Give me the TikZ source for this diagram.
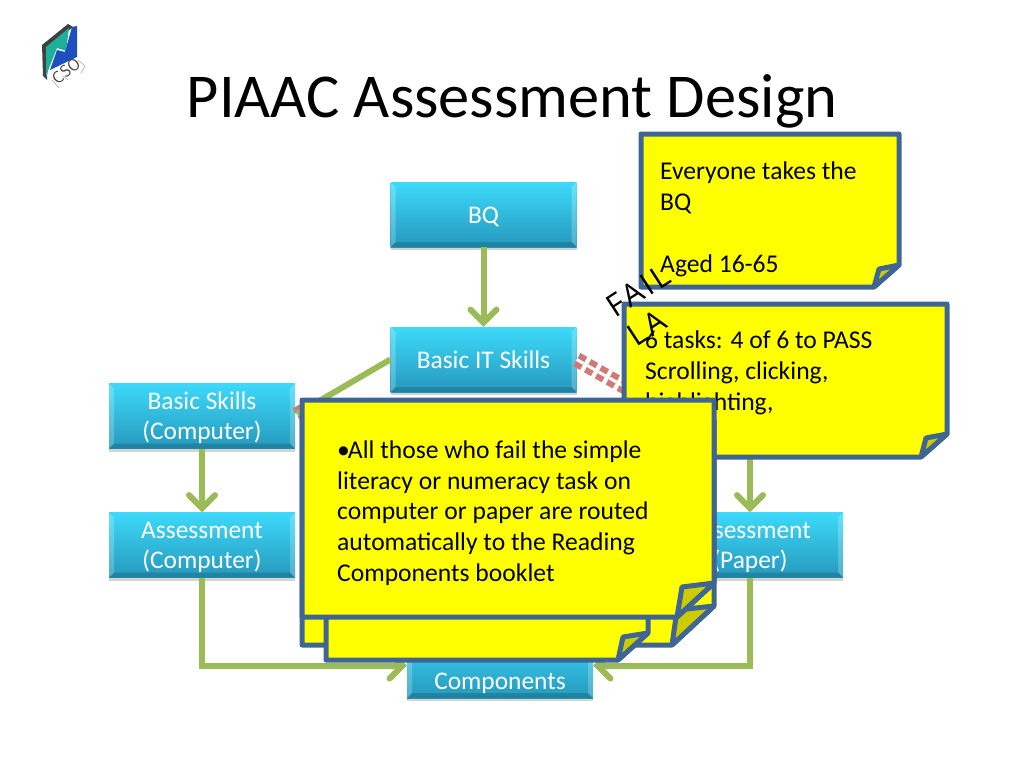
\documentclass[tikz,border=0pt]{standalone}
\usepackage{fontspec}
\setmainfont{Carlito}
\newfontfamily\inkfont[LetterSpace=9]{Open Sans}
\usetikzlibrary{arrows.meta,shadows}
\definecolor{notefill}{HTML}{FFFF00}
\definecolor{noteedge}{HTML}{3F6595}
\definecolor{foldfill}{HTML}{CCCC00}
\definecolor{linkgreen}{HTML}{9BBB59}
\definecolor{linkred}{HTML}{CF7A77}
\definecolor{boxtop}{HTML}{3DDAFB}
\definecolor{boxbot}{HTML}{2598BC}
\definecolor{logoteal}{HTML}{1DAF98}
\definecolor{logoblue}{HTML}{1F4FBF}
% left, top, right, bottom, size of the cut corner
\newcommand{\notepaper}[5]{
  \draw[note] (#1,#2) -- (#3,#2) -- (#3,#4-#5) -- (#3-#5-3,#4) -- (#1,#4) -- cycle;
  \draw[note,fill=foldfill] (#3-#5-3,#4) -- (#3-#5+2,#4-#5+4) -- (#3,#4-#5) -- cycle;
}
\begin{document}
\begin{tikzpicture}[
    x=1pt, y=-1pt,
    box/.style={minimum width=186pt, minimum height=65pt, inner sep=0pt, align=center,
      top color=boxtop, bottom color=boxbot, text=white, font=\fontsize{25.4}{30.7}\selectfont,
      text height=22pt, text depth=5pt,
      drop shadow={shadow xshift=0pt, shadow yshift=-3pt, opacity=0.35},
      path picture={
        \fill[white,opacity=.22] (path picture bounding box.south west) -- (path picture bounding box.north west)
          -- ([xshift=5pt,yshift=-5pt]path picture bounding box.north west) -- ([xshift=5pt,yshift=5pt]path picture bounding box.south west) -- cycle;
        \fill[white,opacity=.22] (path picture bounding box.south east) -- (path picture bounding box.north east)
          -- ([xshift=-5pt,yshift=-5pt]path picture bounding box.north east) -- ([xshift=-5pt,yshift=5pt]path picture bounding box.south east) -- cycle;
        \fill[black,opacity=.15] (path picture bounding box.south west) -- (path picture bounding box.south east)
          -- ([xshift=-5pt,yshift=5pt]path picture bounding box.south east) -- ([xshift=5pt,yshift=5pt]path picture bounding box.south west) -- cycle;
      }},
    tallbox/.style={box, text height=52.7pt},
    note/.style={draw=noteedge, line width=5pt, line join=round, fill=notefill},
    notetext/.style={anchor=north west, inner sep=0pt, align=left, font=\fontsize{25.6}{30.7}\selectfont},
    link/.style={draw=linkgreen, line width=6pt},
    arr/.style={link, -{Straight Barb[length=13pt, width=26pt, line cap=round]}},
    faillink/.style={draw=linkred, line width=6pt, double=white, double distance=3pt, dash pattern=on 8pt off 4.5pt},
    ink/.style={inner sep=0pt, rotate=33, font=\inkfont\fontsize{31}{31}\selectfont}
  ]
    \useasboundingbox (0,0) rectangle (1024,768);

    % logo
    \fill[black!75] (42,45) -- (68,24) -- (73,27) -- (47,48) -- (47,80) -- (43,76) -- cycle;
    \fill[logoteal] (46,47) -- (69,28) -- (66,51) -- (57,48) -- (49,68) -- (46,78) -- cycle;
    \fill[logoblue] (72,27) -- (77,26) -- (77,57) -- (50,70) -- (57,50) -- (65,52) -- cycle;
    \draw[black!30, line width=.7pt] (52,80) -- (59,88) (63,76) -- (68,80) (78,60) -- (85,66) -- (81,73);
    \node[rotate=38, inner sep=0pt, text=black!75, font=\sffamily\fontsize{17}{17}\selectfont] (logotext) at (66,71) {CSO};

    \node[font=\fontsize{62.4}{70}\selectfont] (title) at (512,101) {PIAAC Assessment Design};

    \coordinate (bspaper) at (750,448);
    \coordinate (redend) at (657,405);
    \coordinate (redleft) at (314,404);

    \node[box] (bq) at (483.5,214.5) {BQ};
    \node[box] (it) at (483.5,359.5) {Basic IT Skills};
    \node[tallbox] (bs) at (202,416) {Basic Skills\\(Computer)};
    \node[tallbox] (ac) at (202,545) {Assessment\\(Computer)};
    \node[tallbox] (ap) at (750,545) {Assessment\\(Paper)};
    \node[tallbox] (comp) at (500,665.5) {\strut\\Components};

    \draw[faillink] (it.east) -- (redend);
    \draw[faillink] (redleft) -- (bs.east);
    \draw[link] (it.west) -- (297,414);
    \draw[arr] (bq) -- (it);
    \draw[arr] (bs) -- (ac);
    \draw[arr] (bspaper) -- (ap);
    \draw[arr] (ac.south) |- (comp.west);
    \draw[arr] (ap.south) |- (comp.east);

    \notepaper{641}{134}{899}{287}{22}
    \node[notetext] (note1) at (660,162) {Everyone takes the\\BQ\\[30.7pt]Aged 16-65};

    \notepaper{624}{304}{947}{457}{23}
    \node[notetext] (note2) at (645,331) {6 tasks: 4 of 6 to PASS\\Scrolling, clicking,\\highlighting,};

    \notepaper{302}{420}{714}{645}{39}
    \notepaper{326}{440}{648}{660}{27}
    \notepaper{302}{400}{714}{617}{34}
    \node[notetext] (note3) at (337,440.5) {\textbullet\hspace{-2pt}All those who fail the simple\\literacy or numeracy task on\\computer or paper are routed\\automatically to the Reading\\Components booklet};

    \node[ink] (fail) at (638,291) {FAIL};
    \node[ink] (la) at (647,328) {LA};
  \end{tikzpicture}
\end{document}
